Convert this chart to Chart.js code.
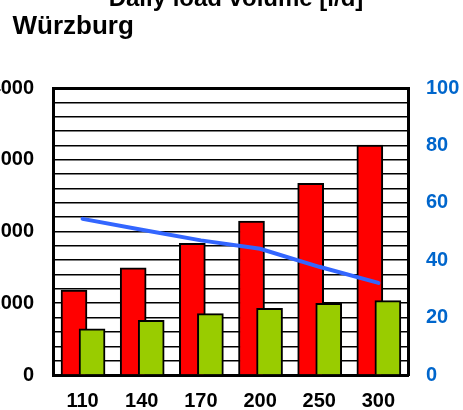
<!DOCTYPE html>
<html>
<head>
<meta charset="utf-8">
<script src="https://cdn.jsdelivr.net/npm/chart.js@4/dist/chart.umd.min.js"></script>
<style>
  html, body { margin: 0; padding: 0; background: #fff; }
  #wrap { position: relative; width: 463px; height: 410px; overflow: hidden; }
</style>
</head>
<body>
<div id="wrap"><canvas id="c"></canvas></div>
<script>
const categories = ['110', '140', '170', '200', '250', '300'];
const redValues = [1185, 1495, 1836, 2146, 2672, 3206];
const greenValues = [645, 762, 855, 929, 999, 1036];
const lineValues = [54.4, 50.6, 46.9, 44.0, 37.7, 32.1];
const leftTicks = [0, 1000, 2000, 3000, 4000];
const rightTicks = [0, 20, 40, 60, 80, 100];

const TITLE = 'Daily load volume [l/d]';
const SUBTITLE = 'Würzburg';
const FONT = 'Liberation Sans, Arial, Helvetica, sans-serif';
const RED_SHIFT = -0.145;
const GREEN_SHIFT = 0.16;

const redData = redValues.map((v, i) => ({ x: i + RED_SHIFT, y: v }));
const greenData = greenValues.map((v, i) => ({ x: i + GREEN_SHIFT, y: v }));
const lineData = lineValues.map((v, i) => ({ x: i, y: v }));

// nudge the title boxes horizontally to match the reference placement
const titleShift = {
  id: 'titleShift',
  afterLayout(chart) {
    chart.boxes.forEach(b => {
      if (!b.options) return;
      if (b.options.text === SUBTITLE) { b.left = 12.5; }
      if (b.options.text === TITLE) { b.left = 9; }
    });
  }
};

new Chart(document.getElementById('c'), {
  type: 'bar',
  plugins: [titleShift],
  data: {
    datasets: [
      {
        type: 'bar', data: redData, backgroundColor: '#ff0000',
        borderColor: '#000', borderWidth: 2, barThickness: 26,
        grouped: false, order: 2, yAxisID: 'y'
      },
      {
        type: 'bar', data: greenData, backgroundColor: '#99cc00',
        borderColor: '#000', borderWidth: 2, barThickness: 26,
        grouped: false, order: 1, yAxisID: 'y'
      },
      {
        type: 'line', data: lineData, borderColor: '#3366ff',
        borderWidth: 4, pointRadius: 0, tension: 0, borderCapStyle: 'round',
        order: 0, yAxisID: 'y1'
      }
    ]
  },
  options: {
    responsive: true,
    maintainAspectRatio: false,
    animation: false,
    layout: { padding: 0 },
    plugins: {
      legend: { display: false },
      tooltip: { enabled: false },
      title: {
        display: true,
        text: TITLE,
        color: '#000',
        font: { family: FONT, size: 24, weight: 'bold' },
        padding: { top: -15.4, bottom: 0 }
      },
      subtitle: {
        display: true,
        text: SUBTITLE,
        align: 'start',
        color: '#000',
        font: { family: FONT, size: 26, weight: 'bold' },
        padding: { top: -1.8, bottom: 45.2 }
      }
    },
    scales: {
      x: {
        type: 'linear',
        min: -0.5,
        max: 5.5,
        offset: false,
        grid: { display: false, drawTicks: false },
        border: { display: true, color: '#000', width: 3 },
        afterBuildTicks: (axis) => { axis.ticks = categories.map((c, i) => ({ value: i })); },
        afterFit: (axis) => { axis.height = 35; },
        ticks: {
          autoSkip: false, maxRotation: 0, padding: 14, color: '#000',
          font: { family: FONT, size: 20, weight: 'bold' },
          callback: (v) => categories[v]
        }
      },
      y: {
        position: 'left',
        min: leftTicks[0],
        max: leftTicks[leftTicks.length - 1],
        afterFit: (axis) => { axis.width = 53; },
        grid: {
          color: '#000',
          lineWidth: (ctx) => (ctx.tick && ctx.tick.value === leftTicks[leftTicks.length - 1]) ? 3 : 1.6,
          drawTicks: false
        },
        border: { display: true, color: '#000', width: 3 },
        ticks: {
          stepSize: 200, autoSkip: false, padding: 19, color: '#000',
          font: { family: FONT, size: 20, weight: 'bold' },
          callback: (v) => leftTicks.includes(v) ? String(v) : ''
        }
      },
      y1: {
        position: 'right',
        min: rightTicks[0],
        max: rightTicks[rightTicks.length - 1],
        afterFit: (axis) => { axis.width = 55; },
        grid: { display: false, drawTicks: false },
        border: { display: true, color: '#000', width: 3 },
        afterBuildTicks: (axis) => { axis.ticks = rightTicks.map(v => ({ value: v })); },
        ticks: {
          autoSkip: false, padding: 18, color: '#0066cc',
          font: { family: FONT, size: 20, weight: 'bold' },
          callback: (v) => String(v)
        }
      }
    }
  }
});
</script>
</body>
</html>
